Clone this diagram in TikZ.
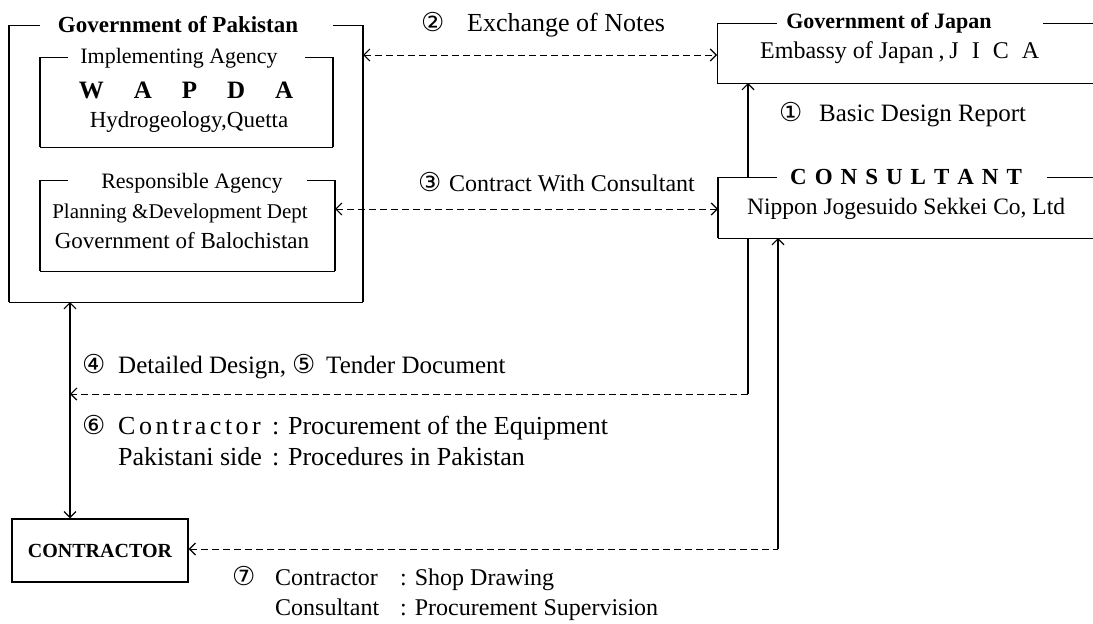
\documentclass[tikz,border=0pt]{standalone}
\usepackage{fontspec}
\setmainfont{Liberation Serif}
\newfontfamily\circfont{DejaVu Sans}
\usetikzlibrary{arrows.meta}
\tikzset{chev/.tip={Straight Barb[length=6pt,width=12pt,line width=1.2pt]}}
\newcommand\cnum[2][28pt]{\makebox[#1][l]{\circfont\fontsize{26}{26}\selectfont #2}}
\newcommand\lsp{\kern 8pt}
\newcommand\ssp{\kern 3.5pt}
\newcommand\wsp{\kern 13pt}
\begin{document}
\begin{tikzpicture}[x=1pt,y=-1pt,
  frame/.style={draw=none,rectangle,inner sep=0pt,outer sep=0pt},
  hline/.style={line width=1pt},
  vline/.style={line width=1.8pt},
  mline/.style={line width=1.3pt},
  dline/.style={line width=0.9pt,dash pattern=on 7pt off 4pt},
  txt/.style={inner sep=0pt,font=\fontsize{24}{28}\selectfont},
  btxt/.style={inner sep=0pt,font=\fontsize{23}{28}\selectfont\bfseries}]
\useasboundingbox (0,0) rectangle (1093,624);
\fill[white] (0,0) rectangle (1093,624);

% frames
\node[frame,minimum width=354pt,minimum height=277pt] (pak) at (186,163.5) {};
\node[frame,minimum width=293pt,minimum height=90pt] (in1) at (186.5,102) {};
\node[frame,minimum width=295pt,minimum height=91pt] (in2) at (187.5,225.5) {};
\node[frame,minimum width=376pt,minimum height=60pt] (jap) at (905,53) {};
\node[frame,minimum width=375pt,minimum height=61pt] (cons) at (905.5,207.5) {};
\node[draw,mline,rectangle,inner sep=0pt,minimum width=176pt,minimum height=63pt] (ctr) at (100,550.5)
  {\fontsize{20}{20}\selectfont\bfseries CONTRACTOR};

% Pakistan outer box
\draw[vline] (pak.north west) -- (pak.south west);
\draw[vline] (pak.north east) -- (pak.south east);
\draw[hline] (pak.south west) -- (pak.south east);
\draw[hline] (pak.north west) -- ++(31,0);
\draw[hline] (pak.north east) -- ++(-30,0);
% inner boxes
\foreach \b in {in1,in2}{
  \draw[mline] (\b.north west) -- (\b.south west);
  \draw[vline] (\b.north east) -- (\b.south east);
  \draw[hline] (\b.south west) -- (\b.south east);
  \draw[hline] (\b.north west) -- ++(28,0);
  \draw[hline] (\b.north east) -- ++(-28,0);
}
% Japan box
\draw[hline] (jap.north west) -- (jap.south west);
\draw[hline] (jap.south west) -- (jap.south east);
\draw[hline] (jap.north west) -- ++(60,0);
\draw[hline] (jap.north east) -- ++(-50,0);
% Consultant box
\draw[mline] (cons.north west) -- (cons.south west);
\draw[hline] (cons.south west) -- (cons.south east);
\draw[hline] (cons.north west) -- ++(59,0);
\draw[hline] (cons.north east) -- ++(-46,0);

% texts in boxes
\node[btxt] (pakt) at (178,25) {Government of Pakistan};
\node[txt,font=\fontsize{22}{26}\selectfont] (in1t) at (179,58) {Implementing Agency};
\node[txt,font=\fontsize{25}{28}\selectfont\bfseries] (wapda) at (186,90)
  {W\hspace{30pt}A\hspace{30pt}P\hspace{30pt}D\hspace{30pt}A};
\node[txt,font=\fontsize{23}{26}\selectfont] (hyd) at (189,122) {Hydrogeology,Quetta};
\node[txt,font=\fontsize{22}{26}\selectfont] (in2t) at (192,183) {Responsible Agency};
\node[txt,font=\fontsize{21}{26}\selectfont] (pdd) at (180,213) {Planning \&Development Dept};
\node[txt,font=\fontsize{23}{26}\selectfont] (gob) at (182,241) {Government of Balochistan};

\node[btxt,font=\fontsize{22}{26}\selectfont\bfseries] (japt) at (889,23) {Government of Japan};
\node[txt,anchor=west] (emb) at (760,53) {Embassy of Japan\kern5pt,\kern5pt J\wsp I\wsp C\wsp A};
\node[txt,anchor=west,font=\fontsize{23}{26}\selectfont\bfseries] (const) at (790,177)
  {C\lsp O\lsp N\lsp S\lsp U\lsp L\lsp T\lsp A\lsp N\lsp T};
\node[txt,anchor=west,font=\fontsize{23.5}{26}\selectfont] (nip) at (747,209) {Nippon Jogesuido Sekkei Co, Ltd};

% labels
\node[txt,anchor=west,font=\fontsize{26}{28}\selectfont] (l2) at (421,25) {\cnum[46pt]{②}Exchange of Notes};
\node[txt,anchor=west] (l3) at (418,182) {\cnum[31pt]{③}Contract With Consultant};
\node[txt,anchor=west,font=\fontsize{25}{28}\selectfont] (l1) at (779,115) {\cnum[40pt]{①}Basic Design Report};
\node[txt,anchor=west,font=\fontsize{25}{28}\selectfont] (l45) at (82,367) {\cnum[36pt]{④}Detailed Design,\hspace{6pt}\cnum[34pt]{⑤}Tender Document};
\node[txt,anchor=west,font=\fontsize{26}{28}\selectfont] (l6) at (82,428) {\cnum[36pt]{⑥}\makebox[154pt][l]{C\ssp o\ssp n\ssp t\ssp r\ssp a\ssp c\ssp t\ssp o\ssp r}: Procurement of the Equipment};
\node[txt,anchor=west,font=\fontsize{26}{28}\selectfont] (l6b) at (118,457) {\makebox[154pt][l]{Pakistani side}: Procedures in Pakistan};
\node[txt,anchor=west] (l7) at (232,578) {\cnum[43pt]{⑦}\makebox[125pt][l]{Contractor}: Shop Drawing};
\node[txt,anchor=west] (l7b) at (275,610) {\makebox[125pt][l]{Consultant}: Procurement Supervision};

% connectors
\draw[dline,chev-chev] (pak.east |- 0,55) -- (jap.west |- 0,55);
\draw[dline,chev-chev] (in2.east |- 0,209) -- (cons.west |- 0,209);
\draw[vline,-chev] (cons.north -| 748,0) -- (jap.south -| 748,0);
\draw[vline,chev-chev] (pak.south -| 70,0) -- (ctr.north -| 70,0);
\coordinate (c4a) at (748,394);
\coordinate (c4b) at (70,394);
\draw[vline] (cons.south -| 748,0) -- (c4a);
\draw[dline,-chev] (c4a) -- (c4b);
\coordinate (c7) at (778,549);
\draw[dline,chev-] (ctr.east |- 0,549) -- (c7);
\draw[vline,-chev] (c7) -- (cons.south -| 778,0);
\end{tikzpicture}
\end{document}
